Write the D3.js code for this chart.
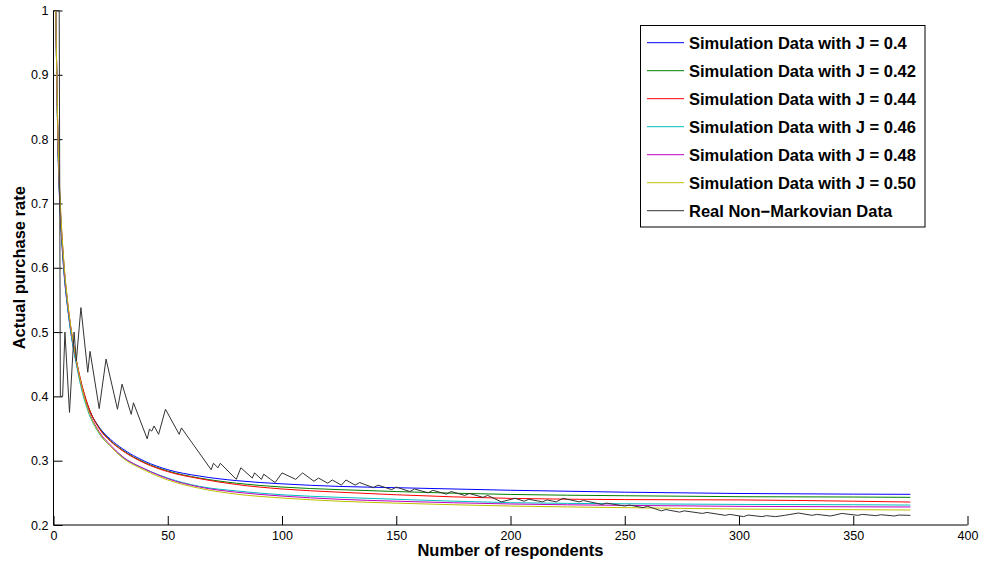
<!DOCTYPE html>
<html>
<head>
<meta charset="utf-8">
<script src="https://cdn.jsdelivr.net/npm/d3@7"></script>
<style>
  html, body { margin: 0; padding: 0; background: #fff; }
  svg { display: block; font-family: "Liberation Sans", Arial, Helvetica, sans-serif; }
</style>
</head>
<body>
<svg id="chart" width="985" height="568"></svg>
<script>
// ---- Data ----
const xTicks = [0, 50, 100, 150, 200, 250, 300, 350, 400];
const yTicks = [0.2, 0.3, 0.4, 0.5, 0.6, 0.7, 0.8, 0.9, 1];

const simX = [1, 2, 3, 4, 5, 6, 8, 10, 12, 15, 20, 25, 30, 40, 50, 64, 80, 100, 125, 150, 200, 250, 300, 350, 375];

const simJ040 = [1.0, 0.78, 0.68, 0.62, 0.575, 0.543, 0.49, 0.452, 0.42, 0.385, 0.352, 0.333, 0.319, 0.299, 0.286, 0.276, 0.269, 0.264, 0.260, 0.258, 0.254, 0.251, 0.249, 0.248, 0.2477];
const simJ042 = [1.0, 0.785, 0.685, 0.625, 0.58, 0.547, 0.494, 0.455, 0.422, 0.386, 0.351, 0.331, 0.317, 0.297, 0.284, 0.273, 0.265, 0.259, 0.255, 0.252, 0.2475, 0.2455, 0.244, 0.2435, 0.243];
const simJ044 = [1.0, 0.79, 0.69, 0.63, 0.585, 0.55, 0.497, 0.457, 0.424, 0.387, 0.35, 0.33, 0.316, 0.296, 0.283, 0.272, 0.263, 0.256, 0.251, 0.247, 0.2414, 0.2395, 0.239, 0.237, 0.2357];
const simJ046 = [1.0, 0.79, 0.69, 0.628, 0.58, 0.545, 0.49, 0.45, 0.415, 0.378, 0.342, 0.322, 0.306, 0.287, 0.273, 0.26, 0.253, 0.247, 0.243, 0.24, 0.2347, 0.233, 0.232, 0.2315, 0.231];
const simJ048 = [1.0, 0.795, 0.695, 0.633, 0.586, 0.551, 0.496, 0.455, 0.42, 0.382, 0.345, 0.324, 0.307, 0.287, 0.272, 0.259, 0.251, 0.245, 0.24, 0.237, 0.2327, 0.2305, 0.229, 0.2283, 0.228];
const simJ050 = [1.0, 0.80, 0.70, 0.637, 0.59, 0.554, 0.498, 0.456, 0.42, 0.381, 0.343, 0.322, 0.305, 0.285, 0.27, 0.257, 0.248, 0.242, 0.237, 0.234, 0.2295, 0.227, 0.2248, 0.2238, 0.2233];

const realX = [0, 2.5, 3, 4, 5, 7, 9, 10, 12, 15, 16, 20, 23, 28, 30, 34, 35, 41, 42, 43, 44, 46, 49, 55, 56, 69, 70, 72, 73, 80, 82, 87, 88, 91, 92, 95, 97, 100, 106, 109, 114, 116, 120, 122, 126, 128, 132, 134, 140, 142, 148, 150, 156, 158, 164, 166, 172, 174, 180, 182, 188, 190, 196, 202, 206, 208, 214, 216, 220, 223, 230, 232, 240, 242, 250, 252, 258, 260, 266, 268, 274, 276, 284, 286, 294, 296, 302, 304, 310, 312, 316, 320, 326, 332, 334, 340, 342, 345, 352, 354, 360, 362, 368, 370, 375];
const realY = [1.0, 1.0, 0.4, 0.4, 0.5, 0.375, 0.5, 0.455, 0.538, 0.4375, 0.47, 0.381, 0.458, 0.38, 0.419, 0.372, 0.39, 0.334, 0.349, 0.346, 0.354, 0.341, 0.38, 0.341, 0.351, 0.286, 0.296, 0.289, 0.296, 0.271, 0.289, 0.273, 0.281, 0.271, 0.279, 0.271, 0.266, 0.281, 0.271, 0.281, 0.268, 0.273, 0.265, 0.27, 0.262, 0.27, 0.262, 0.266, 0.258, 0.262, 0.255, 0.259, 0.252, 0.256, 0.25, 0.254, 0.248, 0.252, 0.246, 0.249, 0.243, 0.246, 0.236, 0.2415, 0.237, 0.24, 0.236, 0.239, 0.236, 0.2415, 0.236, 0.238, 0.232, 0.234, 0.2295, 0.231, 0.227, 0.229, 0.222, 0.224, 0.22, 0.222, 0.218, 0.2195, 0.215, 0.2165, 0.213, 0.2155, 0.213, 0.2145, 0.213, 0.215, 0.2186, 0.215, 0.2165, 0.214, 0.2155, 0.218, 0.215, 0.2165, 0.2145, 0.216, 0.214, 0.2155, 0.215];

const seriesNames = ["Simulation Data with J = 0.4", "Simulation Data with J = 0.42", "Simulation Data with J = 0.44",
  "Simulation Data with J = 0.46", "Simulation Data with J = 0.48", "Simulation Data with J = 0.50", "Real Non\u2212Markovian Data"];
const seriesColors = ["#0000ff", "#008000", "#ff0000", "#00bfbf", "#bf00bf", "#bfbf00", "#333333"];

// ---- Build ----
const simSeries = [simJ040, simJ042, simJ044, simJ046, simJ048, simJ050].map(vals => simX.map((x, i) => [x, vals[i]]));
const realSeries = realX.map((x, i) => [x, realY[i]]);

const svg = d3.select("#chart");
const x = d3.scaleLinear().domain([0, 400]).range([53.5, 967.5]);
const y = d3.scaleLinear().domain([0.2, 1]).range([525, 10.5]);

// Axes (MATLAB style, box off, ticks inward)
const xAxis = svg.append("g").attr("transform", "translate(0,525)")
  .call(d3.axisBottom(x).tickValues(xTicks).tickSize(-9).tickPadding(6).tickFormat(d3.format("d")));
const yAxis = svg.append("g").attr("transform", "translate(53.5,0)")
  .call(d3.axisLeft(y).tickValues(yTicks).tickSize(-9).tickPadding(5).tickFormat(d => d === 1 ? "1" : d3.format(".1f")(d)));

[xAxis, yAxis].forEach(g => {
  g.select(".domain").attr("stroke", "#000").attr("stroke-width", 1);
  g.selectAll(".tick line").attr("stroke", "#000").attr("stroke-width", 1);
  g.selectAll(".tick text").attr("fill", "#000").style("font-size", "12.5px")
    .style("font-family", "'Liberation Sans', Arial, sans-serif");
});
yAxis.select(".domain").attr("d", `M0,${y(1)}V${y(0.2)}`);
xAxis.select(".domain").attr("d", `M${x(0)},0H${x(400)}`);

// Lines
const smooth = d3.line().x(d => x(d[0])).y(d => y(d[1])).curve(d3.curveMonotoneX);
const straight = d3.line().x(d => x(d[0])).y(d => y(d[1]));

simSeries.forEach((s, i) => {
  svg.append("path").datum(s).attr("d", smooth)
    .attr("fill", "none").attr("stroke", seriesColors[i]).attr("stroke-width", 1);
});
svg.append("path").datum(realSeries).attr("d", straight)
  .attr("fill", "none").attr("stroke", seriesColors[6]).attr("stroke-width", 1).attr("stroke-linejoin", "miter");

// Axis labels
svg.append("text").attr("x", x(200)).attr("y", 556).attr("text-anchor", "middle")
  .style("font-size", "16.5px").style("font-weight", "bold").text("Number of respondents");
svg.append("text").attr("transform", `translate(25,${y(0.6)}) rotate(-90)`).attr("text-anchor", "middle")
  .style("font-size", "16.5px").style("font-weight", "bold").text("Actual purchase rate");

// Legend
const lg = svg.append("g");
lg.append("rect").attr("x", 640.5).attr("y", 25.5).attr("width", 284.5).attr("height", 201.5)
  .attr("fill", "#fff").attr("stroke", "#000").attr("stroke-width", 1);
seriesNames.forEach((name, i) => {
  const cy = 42.7 + i * 28;
  lg.append("line").attr("x1", 647).attr("x2", 684).attr("y1", cy).attr("y2", cy)
    .attr("stroke", seriesColors[i]).attr("stroke-width", 1);
  lg.append("text").attr("x", 689).attr("y", cy + 6).style("font-size", "16.5px").style("font-weight", "bold")
    .text(name);
});
</script>
</body>
</html>
